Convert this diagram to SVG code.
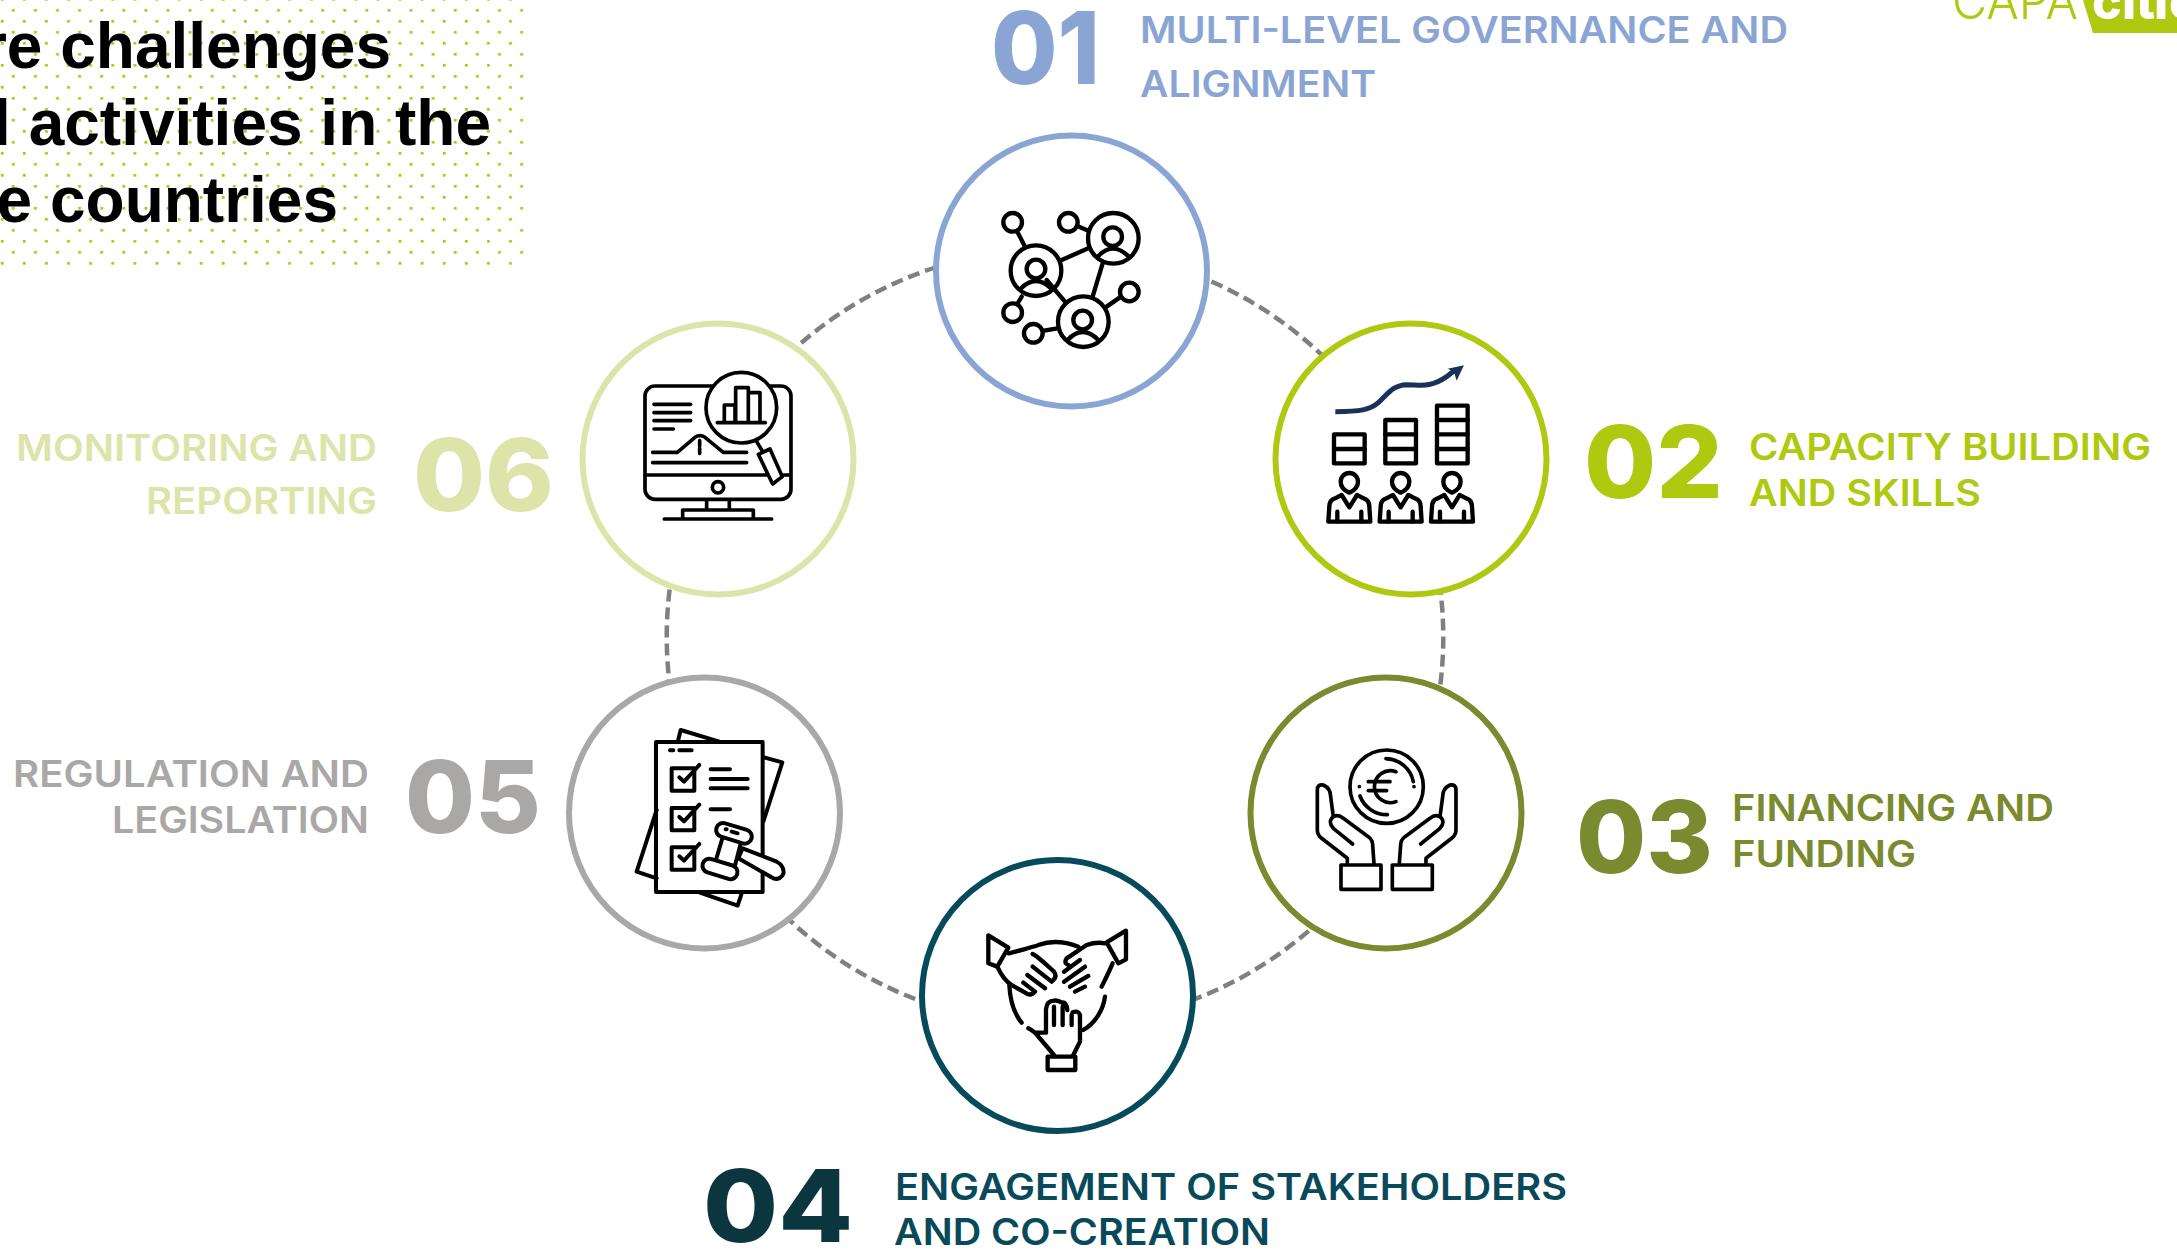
<svg xmlns="http://www.w3.org/2000/svg" xmlns:xlink="http://www.w3.org/1999/xlink" width="2177" height="1254" viewBox="0 0 2177 1254">
<style>
text{font-family:Inter,"Liberation Sans",sans-serif}
.ring{fill:#fff;stroke-width:6}
.ic{fill:none;stroke:#000;stroke-width:13;stroke-linecap:round;stroke-linejoin:round}
.wf{fill:#fff}
.conn{fill:none;stroke:#808080;stroke-width:4.5;stroke-dasharray:12 6}
.num{font-size:100px;font-weight:800}
.lab{font-size:36.5px;font-weight:600}
.title{font-family:"Liberation Sans",Arial,sans-serif;font-size:64px;font-weight:700;fill:#000;text-anchor:end}
</style>
<defs>
<pattern id="dots" x="0" y="5" width="22.1" height="22" patternUnits="userSpaceOnUse">
<rect x="11.9" y="3.9" width="2.8" height="2.8" fill="#aec90f"/>
<rect x="0.8" y="14.9" width="2.8" height="2.8" fill="#aec90f"/>
</pattern>
<g id="worker">
<path d="M268 548C250 540 242 530 242 515A26 26 0 0 1 294 515C294 530 286 540 268 548Z"/>
<path d="M205 635L208 590Q208 570 225 565L245 555L268 592L291 555L311 565Q328 570 328 590L331 635Z"/>
<path d="M232 605V635M304 605V635"/>
</g>
<g id="hand">
<path d="M322 580V565L245 505Q232 495 232 480V360Q232 342 250 345Q272 355 272 380L280 440"/>
<path d="M338 522L280 475Q262 455 280 440Q295 432 310 445L385 500Q398 510 398 525L402 580"/>
<rect x="303" y="585" width="120" height="73"/>
</g>
</defs>
<rect width="2177" height="1254" fill="#fff"/>
<g id="title-block">
<rect x="0" y="0" width="524" height="266" fill="url(#dots)"/>
<text class="title" x="391" y="68">re challenges</text>
<text class="title" x="491" y="145">l activities in the</text>
<text class="title" x="338" y="222">e countries</text>
</g>
<g id="logo">
<polygon points="2083,0 2093,33 2177,33 2177,0" fill="#aec90f"/>
<text x="1952" y="19" font-size="50" font-weight="300" fill="#aec90f" textLength="126" lengthAdjust="spacingAndGlyphs">CAPA</text>
<text y="19" font-size="50" font-weight="800" fill="#fff" x="2092 2122 2136 2154 2169">citie</text>
</g>
<g id="connectors">
<path class="conn" d="M712 455A388 388 0 0 1 1072 249"/>
<path class="conn" d="M1072 249A388 388 0 0 1 1402 463"/>
<path class="conn" d="M1402 463A388 388 0 0 1 1398 819"/>
<path class="conn" d="M1398 819A388 388 0 0 1 1056 1025"/>
<path class="conn" d="M1056 1025A388 388 0 0 1 708 811"/>
<path class="conn" d="M708 811A388 388 0 0 1 712 455"/>
</g>
<g id="node-01">
<circle class="ring" cx="1071.5" cy="271" r="135.5" stroke="#8aa5d3"/>
<g class="ic" transform="translate(920 120) scale(.3333)">
<circle cx="278" cy="307" r="28"/><circle cx="445" cy="307" r="28"/><circle cx="628" cy="516" r="28"/><circle cx="278" cy="578" r="28"/><circle cx="340" cy="640" r="28"/>
<circle cx="580" cy="355" r="76"/><circle cx="578" cy="350" r="28"/><path d="M533 410Q578 362 627 410"/>
<circle cx="348" cy="452" r="76"/><circle cx="348" cy="447" r="28"/><path d="M301 507Q348 459 395 507"/>
<circle cx="490" cy="605" r="76"/><circle cx="488" cy="600" r="28"/><path d="M443 660Q488 612 535 660"/>
<path d="M292 335L315 380M472 318L505 332M425 420L505 385M548 430L518 530M380 480L435 545M305 530L292 552M368 633L412 625M560 560L603 530"/>
</g>
<text class="num" x="991" y="84" fill="#8aa5d3" textLength="109" lengthAdjust="spacingAndGlyphs">01</text>
<text class="lab" x="1140" y="43" fill="#8aa5d3" textLength="648" lengthAdjust="spacingAndGlyphs">MULTI-LEVEL GOVERNANCE AND</text>
<text class="lab" x="1140" y="97" fill="#8aa5d3" textLength="236" lengthAdjust="spacingAndGlyphs">ALIGNMENT</text>
</g>
<g id="node-02">
<circle class="ring" cx="1411" cy="459" r="135.5" stroke="#aec90f"/>
<g transform="translate(1260 310) scale(.3333)">
<path d="M226 305C300 305 330 300 355 278C385 250 400 225 440 224C480 224 510 235 560 200L585 180" fill="none" stroke="#1a3158" stroke-width="15"/>
<polygon points="612,166 563,176 582,185 590,212" fill="#1a3158"/>
<g class="ic">
<rect x="222" y="373" width="92" height="87"/><path d="M222 417H314"/>
<rect x="376" y="330" width="92" height="130"/><path d="M376 373H468M376 417H468"/>
<rect x="531" y="287" width="92" height="173"/><path d="M531 330H623M531 373H623M531 417H623"/>
<use xlink:href="#worker"/><use xlink:href="#worker" x="154"/><use xlink:href="#worker" x="308"/>
</g>
</g>
<text class="num" x="1584" y="498" fill="#aec90f" textLength="139" lengthAdjust="spacingAndGlyphs">02</text>
<text class="lab" x="1749" y="460" fill="#aec90f" textLength="402" lengthAdjust="spacingAndGlyphs">CAPACITY BUILDING</text>
<text class="lab" x="1749" y="506" fill="#aec90f" textLength="232" lengthAdjust="spacingAndGlyphs">AND SKILLS</text>
</g>
<g id="node-03">
<circle class="ring" cx="1386" cy="813" r="135.5" stroke="#7a8a2e"/>
<g class="ic" style="stroke-width:11" transform="translate(1240 670) scale(.3333)">
<circle cx="440" cy="350" r="110"/>
<path d="M438 266A86 86 0 0 1 520 335M360 378A86 86 0 0 0 442 434M522 350H522.1M358 350H358.1"/>
<path d="M468 305A48 48 0 1 0 468 395M385 335H450M385 362H440"/>
<use xlink:href="#hand"/>
<use xlink:href="#hand" transform="translate(880 0) scale(-1 1)"/>
</g>
<text class="num" x="1576" y="873" fill="#7a8a2e" textLength="137" lengthAdjust="spacingAndGlyphs">03</text>
<text class="lab" x="1732" y="821" fill="#7a8a2e" textLength="322" lengthAdjust="spacingAndGlyphs">FINANCING AND</text>
<text class="lab" x="1732" y="867" fill="#7a8a2e" textLength="184" lengthAdjust="spacingAndGlyphs">FUNDING</text>
</g>
<g id="node-04">
<circle class="ring" cx="1057.5" cy="995.5" r="135.5" stroke="#074a5c"/>
<g class="ic" transform="translate(910 850) scale(.3333)">
<path d="M298 405C300 450 312 490 335 518M385 285Q440 265 505 290M585 440C580 480 555 520 520 540"/>
<path d="M235 256L295 293L262 350L235 340Z"/>
<path d="M296 310C320 305 350 295 378 288M368 312C385 320 410 345 432 365Q442 380 430 390M368 350L425 395M352 375L405 415M340 398L375 425M262 350Q280 390 305 405L352 432Q365 437 375 425"/>
<path d="M648 242L590 277L625 340L648 328Z"/>
<path d="M585 280Q560 275 530 285L470 325Q460 340 475 345M510 330L462 365M525 350L462 395M535 378L480 410M525 410L495 425M608 340Q595 370 575 410"/>
<rect x="413" y="620" width="83" height="40"/>
<path d="M432 615L375 548Q362 538 355 535M490 615L510 575V495Q505 480 488 487M375 548L408 548V478Q410 452 432 452Q445 450 455 458Q470 455 472 480M432 470V525M458 470V525M485 495V525"/>
</g>
<text class="num" x="703" y="1242" fill="#0b3640" textLength="150" lengthAdjust="spacingAndGlyphs">04</text>
<text class="lab" x="895" y="1200" fill="#08495a" textLength="672" lengthAdjust="spacingAndGlyphs">ENGAGEMENT OF STAKEHOLDERS</text>
<text class="lab" x="894" y="1245" fill="#08495a" textLength="376" lengthAdjust="spacingAndGlyphs">AND CO-CREATION</text>
</g>
<g id="node-05">
<circle class="ring" cx="704.5" cy="813" r="135.5" stroke="#aaa7a7"/>
<g class="ic" style="stroke-width:12" transform="translate(560 670) scale(.3333)">
<path d="M354 213L362 180L478 215M612 262L667 277L610 455M290 420L230 605L290 625M420 668L533 707L545 670"/>
<rect x="288" y="216" width="320" height="450"/>
<path d="M330 241H340M358 241H395"/>
<rect x="335" y="295" width="68" height="67"/><path d="M358 322L372 335L418 285"/>
<path d="M452 298H510M452 327H563M452 355H563"/>
<rect x="335" y="414" width="68" height="67"/><path d="M358 441L372 454L418 404"/>
<path d="M452 418H510"/>
<rect x="335" y="532" width="68" height="67"/><path d="M358 559L372 572L418 522"/>
<path class="wf" d="M535 565L640 625Q660 632 670 612Q675 590 650 575L548 535Z"/>
<polygon class="wf" points="490,495 545,510 520,605 462,590"/>
<rect class="wf" x="467" y="469" width="110" height="42" rx="21" transform="rotate(17 522 490)"/>
<rect class="wf" x="426" y="576" width="108" height="42" rx="21" transform="rotate(17 480 597)"/>
<path d="M497 478H500M515 485L533 490"/>
</g>
<text class="num" x="405" y="833" fill="#aaa7a7" textLength="136" lengthAdjust="spacingAndGlyphs">05</text>
<text class="lab" x="13" y="787" fill="#aaa7a7" textLength="356" lengthAdjust="spacingAndGlyphs">REGULATION AND</text>
<text class="lab" x="112" y="833" fill="#aaa7a7" textLength="257" lengthAdjust="spacingAndGlyphs">LEGISLATION</text>
</g>
<g id="node-06">
<circle class="ring" cx="718" cy="459" r="135.5" stroke="#dce4a9"/>
<g class="ic" style="stroke-width:11" transform="translate(580 320) scale(.3333)">
<rect x="195" y="198" width="438" height="340" rx="30"/>
<path d="M195 465H630M380 540V570M448 540V570M308 595V570H520V595M253 597H575"/>
<circle cx="414" cy="502" r="17"/>
<path d="M222 253H332M222 278H332M222 302H332M222 327H280"/>
<path d="M218 397H292L345 352Q360 342 375 352L430 397H500M218 428H500M359 362V378M359 385V400"/>
<circle class="wf" cx="484" cy="263" r="106"/>
<path d="M433 305V255H465V305M467 305V203H505V305M505 218H540V305M412 308H556"/>
<path d="M530 365L548 395"/>
<polygon class="wf" points="535,403 570,387 607,470 578,492"/>
</g>
<text class="num" x="413" y="511" fill="#dce4a9" textLength="141" lengthAdjust="spacingAndGlyphs">06</text>
<text class="lab" x="16" y="461" fill="#dce4a9" textLength="361" lengthAdjust="spacingAndGlyphs">MONITORING AND</text>
<text class="lab" x="146" y="514" fill="#dce4a9" textLength="231" lengthAdjust="spacingAndGlyphs">REPORTING</text>
</g>
</svg>
